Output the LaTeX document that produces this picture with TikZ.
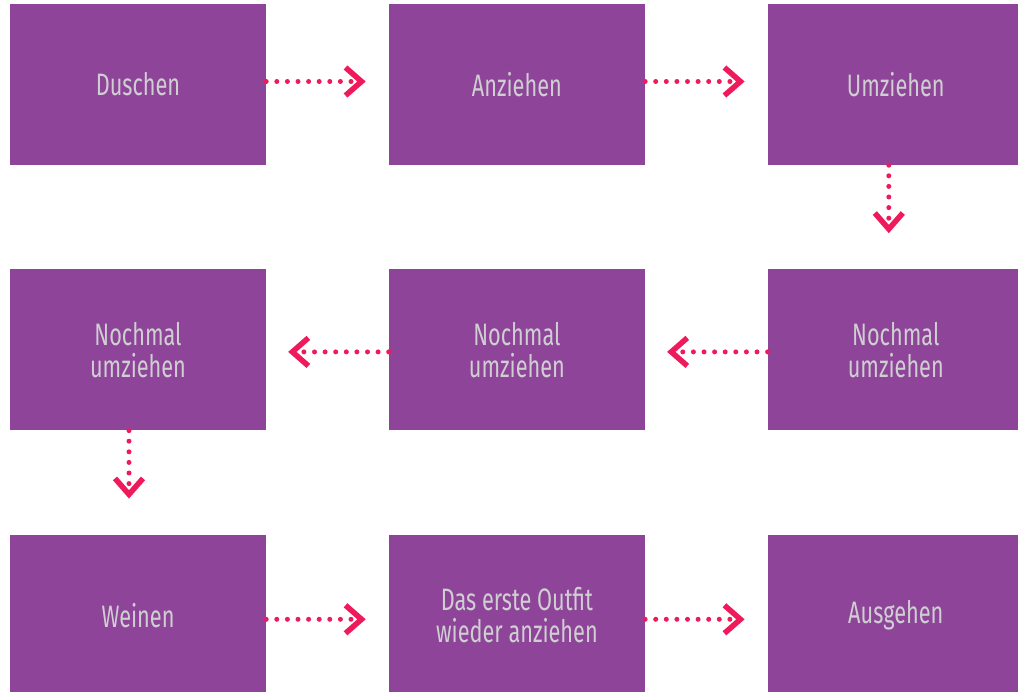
\documentclass[tikz,border=0pt]{standalone}
\usepackage{fontspec}
\setmainfont{Fira Sans}[FakeStretch=0.7]
\usepackage{xcolor}
\usetikzlibrary{positioning,arrows.meta}

\definecolor{boxpurple}{HTML}{8E4499}
\definecolor{arrowpink}{HTML}{EF1A5C}
\definecolor{boxtext}{HTML}{CFCFD2}

\begin{document}
\begin{tikzpicture}[x=1pt,y=1pt,
    node distance=104pt and 122.5pt,
    stepbox/.style={fill=boxpurple, minimum width=256pt, minimum height=161pt,
        inner sep=0pt, text=boxtext, align=center,
        font=\fontsize{31}{32}\selectfont},
    flow/.style={arrowpink, line width=5pt, line cap=round,
        dash pattern=on 0pt off 10.6pt,
        -{Straight Barb[length=16pt,width=28pt,line width=5.5pt]}}]
    \useasboundingbox (0,0) rectangle (1018,-692);

    % First row
    \node[stepbox] (dusch) at (138,-84.5) {Duschen};
    \node[stepbox, right=of dusch] (anzieh) {Anziehen};
    \node[stepbox, right=of anzieh] (umzieh) {Umziehen};

    % Second row (right to left)
    \node[stepbox, below=of umzieh] (nochmalA) {Nochmal\\umziehen};
    \node[stepbox, left=of nochmalA] (nochmalB) {Nochmal\\umziehen};
    \node[stepbox, left=of nochmalB] (nochmalC) {Nochmal\\umziehen};

    % Third row
    \node[stepbox, below=of nochmalC] (weinen) {Weinen};
    \node[stepbox, right=of weinen] (outfit) {Das erste Outfit\\wieder anziehen};
    \node[stepbox, right=of outfit] (ausgehen) {Ausgehen};

    % Dotted arrows
    \draw[flow, shorten >=23pt] ([yshift=3pt]dusch.east) -- ([yshift=3pt]anzieh.west);
    \draw[flow, shorten >=23pt] ([yshift=3pt]anzieh.east) -- ([yshift=3pt]umzieh.west);
    \draw[flow, shorten >=36pt] ([xshift=-7pt]umzieh.south) -- ([xshift=-7pt]nochmalA.north);
    \draw[flow, shorten >=22pt] ([yshift=-2pt]nochmalA.west) -- ([yshift=-2pt]nochmalB.east);
    \draw[flow, shorten >=22pt] ([yshift=-2pt]nochmalB.west) -- ([yshift=-2pt]nochmalC.east);
    \draw[flow, shorten >=36pt] ([xshift=-9pt]nochmalC.south) -- ([xshift=-9pt]weinen.north);
    \draw[flow, shorten >=23pt] ([yshift=-4pt]weinen.east) -- ([yshift=-4pt]outfit.west);
    \draw[flow, shorten >=23pt] ([yshift=-4pt]outfit.east) -- ([yshift=-4pt]ausgehen.west);
\end{tikzpicture}
\end{document}
